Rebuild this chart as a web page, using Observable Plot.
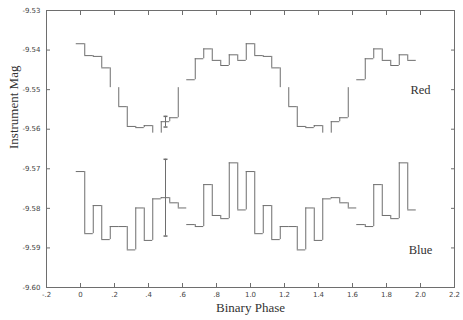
<!DOCTYPE html>
<html><head><meta charset="utf-8">
<script src="https://cdn.jsdelivr.net/npm/d3@7"></script>
<script src="https://cdn.jsdelivr.net/npm/@observablehq/plot@0.6"></script>
<style>body{margin:0;background:#fff}#chart svg{display:block}</style>
</head><body><div id="chart"></div>
<script>
// Binned light curves (one cycle, 20 bins of 0.05 in phase), plotted twice
const phaseStep = 0.05;
const cycles = 2;
const redMag = [-9.5384, -9.5414, -9.5416, -9.5445, -9.5495, -9.5543, -9.5593, -9.5596, -9.5591, -9.5610,
                -9.5581, -9.5571, -9.5495, -9.5475, -9.5422, -9.5397, -9.5426, -9.5439, -9.5412, -9.5426];
const blueMag = [-9.5707, -9.5864, -9.5793, -9.5879, -9.5846, -9.5846, -9.5905, -9.5799, -9.5881, -9.5776,
                 -9.5773, -9.5786, -9.5799, -9.5841, -9.5846, -9.5740, -9.5818, -9.5826, -9.5685, -9.5804];
// typical error bars, drawn at phase 0.5
const errPhase = 0.5;
const redErr = 0.00135;
const blueErr = 0.0097;
// segments that are absent in the reference picture (bin indices / edge indices)
const redHiddenH = [4, 9, 12, 24, 29, 32];
const hiddenV = [13, 33];
const xTicks = [-0.2, 0, 0.2, 0.4, 0.6, 0.8, 1.0, 1.2, 1.4, 1.6, 1.8, 2.0, 2.2];
const yTicks = [-9.60, -9.59, -9.58, -9.57, -9.56, -9.55, -9.54, -9.53];
const seriesNames = ["Red", "Blue"];

function bins(mag) {
  const n = mag.length * cycles;
  return d3.range(n).map(k => ({k, phase: +(k * phaseStep).toFixed(3), mag: mag[k % mag.length]}));
}
function hsegs(mag, hidden) {
  return bins(mag).filter(b => !hidden.includes(b.k))
    .map(b => ({x1: b.phase - phaseStep / 2, x2: b.phase + phaseStep / 2, y: b.mag}));
}
function vsegs(mag, hidden) {
  const b = bins(mag);
  return b.slice(1).filter(d => !hidden.includes(d.k))
    .map(d => ({x: d.phase - phaseStep / 2, y1: b[d.k - 1].mag, y2: d.mag}));
}
const errData = [
  {x: errPhase, y: redMag[Math.round(errPhase / phaseStep)], e: redErr},
  {x: errPhase, y: blueMag[Math.round(errPhase / phaseStep)], e: blueErr}
];
const capSymbol = {draw(ctx) { ctx.moveTo(-2, 0); ctx.lineTo(2, 0); }};

const lineColor = "#6e6e6e";
const fmtX = d => d === 0 ? "0" : (Math.abs(d) < 1 ? d.toFixed(1).replace("0.", ".") : d.toFixed(1));
const fmtY = d => d.toFixed(2);
const tickFont = {fontFamily: "DejaVu Sans", fontSize: 7, fill: "#444"};

const chart = Plot.plot({
  width: 463, height: 320,
  marginLeft: 46, marginRight: 9, marginTop: 10, marginBottom: 33,
  x: {domain: [-0.2, 2.2]},
  y: {domain: [-9.60, -9.53]},
  style: {background: "#fff"},
  marks: [
    Plot.frame({stroke: lineColor}),
    Plot.axisX(xTicks, {anchor: "bottom", tickSize: 0, tickPadding: 5, tickFormat: fmtX, label: null, ...tickFont}),
    Plot.axisX(xTicks, {anchor: "bottom", tickSize: -4, text: null, label: null, stroke: lineColor}),
    Plot.axisX(xTicks, {anchor: "top", tickSize: -4, text: null, label: null, stroke: lineColor}),
    Plot.axisY(yTicks, {anchor: "left", tickSize: 0, tickPadding: 6, tickFormat: fmtY, label: null, ...tickFont}),
    Plot.axisY(yTicks, {anchor: "left", tickSize: -4, text: null, label: null, stroke: lineColor}),
    Plot.axisY(yTicks, {anchor: "right", tickSize: -4, text: null, label: null, stroke: lineColor}),
    Plot.ruleY(hsegs(redMag, redHiddenH), {x1: "x1", x2: "x2", y: "y", stroke: lineColor}),
    Plot.ruleX(vsegs(redMag, hiddenV), {x: "x", y1: "y1", y2: "y2", stroke: lineColor}),
    Plot.ruleY(hsegs(blueMag, []), {x1: "x1", x2: "x2", y: "y", stroke: lineColor}),
    Plot.ruleX(vsegs(blueMag, hiddenV), {x: "x", y1: "y1", y2: "y2", stroke: lineColor}),
    Plot.ruleX(errData, {x: "x", y1: d => d.y - d.e, y2: d => d.y + d.e, stroke: lineColor}),
    Plot.dot(errData, {x: "x", y: d => d.y - d.e, symbol: capSymbol, stroke: lineColor, fill: "none", r: 2}),
    Plot.dot(errData, {x: "x", y: d => d.y + d.e, symbol: capSymbol, stroke: lineColor, fill: "none", r: 2}),
    Plot.text([seriesNames[0]], {x: 2.0, y: -9.5502, text: d => d, fontFamily: "Liberation Serif", fontSize: 12.5, fill: "#333"}),
    Plot.text([seriesNames[1]], {x: 2.0, y: -9.5904, text: d => d, fontFamily: "Liberation Serif", fontSize: 12.5, fill: "#333"}),
    Plot.text(["Binary Phase"], {frameAnchor: "bottom", dy: 24, text: d => d, fontFamily: "Liberation Serif", fontSize: 13, fill: "#333"}),
    Plot.text(["Instrument Mag"], {frameAnchor: "left", dx: -33, rotate: -90, text: d => d, fontFamily: "Liberation Serif", fontSize: 13, fill: "#333"})
  ]
});
document.getElementById("chart").append(chart);
</script>
</body></html>
